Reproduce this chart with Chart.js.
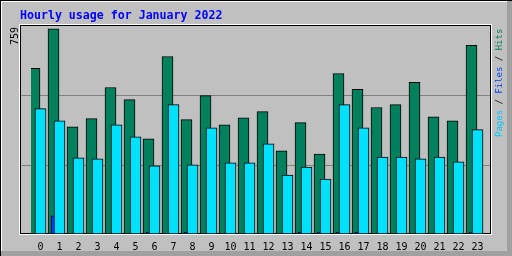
<!DOCTYPE html>
<html>
<head>
<meta charset="utf-8">
<title>Hourly usage for January 2022</title>
<script src="https://cdn.jsdelivr.net/npm/chart.js@4.4.0/dist/chart.umd.min.js"></script>
<style>
  body { margin: 0; background: #c0c0c0; }
  canvas { display: block; }
</style>
</head>
<body>
<canvas id="hourChart" width="512" height="256"></canvas>
<script>
// hours of the day and the three series
const hours = [0, 1, 2, 3, 4, 5, 6, 7, 8, 9, 10, 11, 12, 13, 14, 15, 16, 17, 18, 19, 20, 21, 22, 23];
const hits  = [613, 759, 397, 427, 542, 497, 352, 657, 423, 512, 404, 430, 453, 308, 412, 296, 594, 535, 468, 479, 561, 434, 419, 698];
const files = [0, 67, 0, 0, 0, 0, 6, 0, 6, 0, 0, 0, 0, 0, 6, 6, 6, 6, 0, 0, 0, 0, 0, 6];
const pages = [464, 419, 282, 278, 404, 360, 252, 479, 256, 393, 263, 263, 334, 218, 248, 203, 479, 393, 285, 285, 278, 285, 267, 386];

const maxLabel = String(Math.max(...hits));
const mono = '"DejaVu Sans Mono", "Liberation Mono", monospace';

// shift of the hits / files bars, in hours (6px and 3px of a 19px slot)
const hitShift = 6 / 19;
const fileShift = 3 / 19;

// webalizer style frame, grid lines and side labels
const framePlugin = {
    id: 'frame',
    beforeDraw(chart) {
        const c = chart.ctx;
        c.save();
        c.fillStyle = '#c0c0c0';
        c.fillRect(0, 0, 512, 256);
        // raised outer border
        c.fillStyle = '#a0a0a0';
        c.fillRect(507, 0, 5, 256);
        c.fillRect(0, 251, 512, 5);
        c.fillStyle = '#ffffff';
        c.fillRect(0, 0, 507, 2);
        c.fillRect(0, 0, 2, 251);
        c.fillStyle = '#000000';
        c.fillRect(0, 0, 512, 1);
        c.fillRect(0, 0, 1, 256);
        // plot box
        c.strokeStyle = '#ffffff';
        c.lineWidth = 1;
        c.strokeRect(19.5, 24.5, 472, 210);
        c.strokeStyle = '#000000';
        c.strokeRect(20.5, 25.5, 470, 208);
        // grid lines at thirds
        c.strokeStyle = '#808080';
        c.beginPath();
        c.moveTo(21, 95.5); c.lineTo(490, 95.5);
        c.moveTo(21, 165.5); c.lineTo(490, 165.5);
        c.stroke();
        c.restore();
    },
    afterDraw(chart) {
        const c = chart.ctx;
        c.save();
        c.textBaseline = 'middle';
        c.textAlign = 'left';
        // max value, written upward
        c.font = '10px ' + mono;
        c.fillStyle = '#000000';
        c.translate(15, 45);
        c.rotate(-Math.PI / 2);
        c.fillText(maxLabel, 0, 0);
        c.restore();

        c.save();
        c.textBaseline = 'middle';
        c.textAlign = 'left';
        c.font = '9px ' + mono;
        c.translate(500, 137);
        c.rotate(-Math.PI / 2);
        const parts = [['Pages', '#00c8ff'], [' / ', '#000000'], ['Files', '#0040ff'], [' / ', '#000000'], ['Hits', '#00805c']];
        let x = 0;
        parts.forEach(p => {
            c.fillStyle = p[1];
            c.fillText(p[0], x, 0);
            x += c.measureText(p[0]).width;
        });
        c.restore();
    }
};

let ctx = document.getElementById('hourChart').getContext('2d');

let hourChart = new Chart(ctx, {
    type: 'bar',
    data: {
        labels: hours,
        datasets: [{
            label: 'Pages',
            data: pages,
            xAxisID: 'x',
            backgroundColor: '#00e0ff'
        }, {
            label: 'Files',
            data: files,
            xAxisID: 'xf',
            backgroundColor: '#0040ff'
        }, {
            label: 'Hits',
            data: hits,
            xAxisID: 'xh',
            backgroundColor: '#00805c'
        }]
    },
    options: {
        responsive: false,
        animation: false,
        datasets: {
            bar: {
                grouped: false,
                barThickness: 11,
                borderWidth: 1,
                borderColor: '#000000',
                borderSkipped: false
            }
        },
        layout: {
            padding: { left: 20, right: 25, top: 0, bottom: -4 }
        },
        scales: {
            x: {
                type: 'category',
                offset: true,
                grid: { display: false, drawTicks: false },
                border: { display: false },
                ticks: {
                    color: '#000000',
                    padding: 7,
                    maxRotation: 0,
                    autoSkip: false,
                    font: { family: mono, size: 10 }
                }
            },
            xh: {
                type: 'linear',
                display: false,
                offset: false,
                min: -0.5 + hitShift,
                max: 23.5 + hitShift
            },
            xf: {
                type: 'linear',
                display: false,
                offset: false,
                min: -0.5 + fileShift,
                max: 23.5 + fileShift
            },
            y: {
                min: 0,
                max: Math.round(Math.max(...hits) * 1.015),
                grid: { display: false },
                border: { display: false },
                ticks: { display: false },
                afterFit: s => { s.width = 11; }
            }
        },
        plugins: {
            legend: { display: false },
            tooltip: { enabled: false },
            title: {
                display: true,
                text: 'Hourly usage for January 2022',
                align: 'start',
                color: '#0000ff',
                font: { family: mono, size: 11.6, weight: 'bold', lineHeight: 1.2 },
                padding: { top: 9, bottom: 3 }
            }
        }
    },
    plugins: [framePlugin]
});
</script>
</body>
</html>
